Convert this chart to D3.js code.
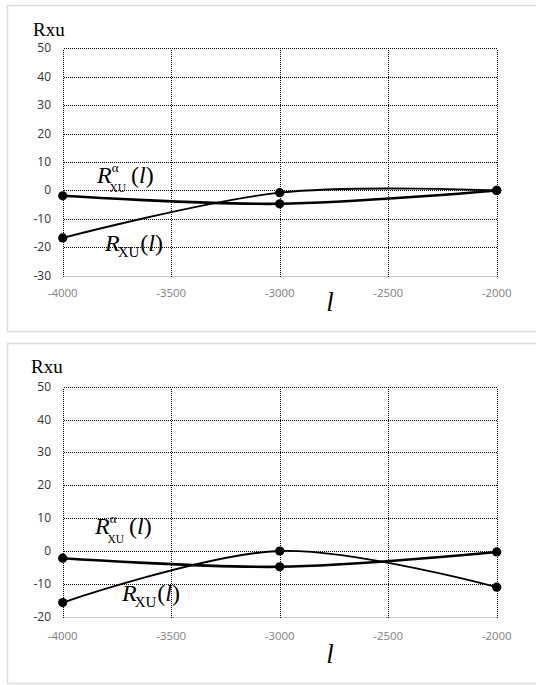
<!DOCTYPE html>
<html>
<head>
<meta charset="utf-8">
<script src="https://cdn.jsdelivr.net/npm/d3@7"></script>
<style>
  body { margin: 0; background: #fff; }
  .ytick { font-family: "Open Sans", sans-serif; font-size: 12px; fill: #333; }
  .xtick { font-family: "Open Sans", sans-serif; font-size: 11.5px; fill: #7f7f7f; }
  .serif { font-family: "Liberation Serif", "Times New Roman", serif; fill: #000; }
</style>
</head>
<body>
<svg id="fig" width="536" height="685"></svg>
<script>
// data
var xValues = [-4000, -3000, -2000];
var xTicks = [-4000, -3500, -3000, -2500, -2000];

var alphaTop = [-1.9, -4.7, 0];
var rxuTop = [-16.7, -0.8, 0];
var yTicksTop = [-30, -20, -10, 0, 10, 20, 30, 40, 50];

var alphaBottom = [-2.2, -4.8, -0.3];
var rxuBottom = [-15.7, 0, -11];
var yTicksBottom = [-20, -10, 0, 10, 20, 30, 40, 50];

var svg = d3.select("#fig");

// snap to pixel grid so the dotted lines stay crisp
function px(v) { return Math.round(v) + 0.5; }

function panel(opt) {
    var g = svg.append("g");

    // frame
    g.append("rect")
        .attr("x", 7.5).attr("y", opt.frameTop + 0.5)
        .attr("width", 540).attr("height", opt.frameH)
        .attr("fill", "none").attr("stroke", "#dcdcdc").attr("stroke-width", 1.5);

    var x = d3.scaleLinear().domain([-4000, -2000]).range([62.7, 496.7]);
    var y = d3.scaleLinear()
        .domain([opt.yTicks[0], opt.yTicks[opt.yTicks.length - 1]])
        .range([opt.plotBottom, opt.plotTop]);

    var y0 = px(y(opt.yTicks[0])), y1 = px(y(opt.yTicks[opt.yTicks.length - 1]));

    // x axis baseline (solid light gray)
    g.append("line")
        .attr("x1", px(x(-4000))).attr("x2", px(x(-2000)))
        .attr("y1", y0).attr("y2", y0)
        .attr("stroke", "#c8c8c8").attr("stroke-width", 1.2);

    // horizontal grid
    g.selectAll(".hg")
        .data(opt.yTicks.slice(1)).enter()
        .append("line")
        .attr("x1", px(x(-4000))).attr("x2", px(x(-2000)))
        .attr("y1", function(d){ return px(y(d)) }).attr("y2", function(d){ return px(y(d)) })
        .attr("stroke", "#000").attr("stroke-width", 1)
        .attr("stroke-dasharray", "1,1")
        .attr("shape-rendering", "crispEdges");

    // vertical grid
    g.selectAll(".vg")
        .data(xTicks).enter()
        .append("line")
        .attr("x1", function(d){ return px(x(d)) }).attr("x2", function(d){ return px(x(d)) })
        .attr("y1", y0).attr("y2", y1)
        .attr("stroke", "#000").attr("stroke-width", 1)
        .attr("stroke-dasharray", "1,1")
        .attr("shape-rendering", "crispEdges");

    // tick labels
    g.selectAll(".ytick")
        .data(opt.yTicks).enter()
        .append("text")
        .attr("class", "ytick")
        .attr("x", 51)
        .attr("y", function(d){ return y(d) + 4 })
        .attr("text-anchor", "end")
        .text(function(d){ return d });

    g.selectAll(".xtick")
        .data(xTicks).enter()
        .append("text")
        .attr("class", "xtick")
        .attr("x", function(d){ return x(d) })
        .attr("y", opt.xLabelY)
        .attr("text-anchor", "middle")
        .text(function(d){ return d });

    // smoothed series
    var line = d3.line()
        .x(function(d){ return x(d[0]) })
        .y(function(d){ return y(d[1]) })
        .curve(d3.curveCatmullRom.alpha(0.5));

    [[opt.rxu, 1.8], [opt.alpha, 2.6]].forEach(function(s) {
        var pts = xValues.map(function(v, i){ return [v, s[0][i]] });
        g.append("path")
            .attr("d", line(pts))
            .attr("fill", "none").attr("stroke", "#000")
            .attr("stroke-width", s[1]);
        g.selectAll(null)
            .data(pts).enter()
            .append("circle")
            .attr("cx", function(d){ return x(d[0]) })
            .attr("cy", function(d){ return y(d[1]) })
            .attr("r", 4.6)
            .attr("fill", "#000");
    });

    // titles
    g.append("text").attr("class", "serif")
        .attr("x", opt.titleX).attr("y", opt.titleY)
        .style("font-size", "19px")
        .text("Rxu");

    g.append("text").attr("class", "serif")
        .attr("x", 330).attr("y", opt.lY)
        .attr("text-anchor", "middle")
        .style("font-size", "27px").style("font-style", "italic")
        .text("l");

    // R^alpha_XU (l)
    var a = g.append("text").attr("class", "serif")
        .attr("x", opt.alphaLab[0]).attr("y", opt.alphaLab[1])
        .style("font-size", "24px");
    a.append("tspan").style("font-style", "italic").text("R");
    a.append("tspan").attr("dy", -11).style("font-size", "13px").text("\u03b1");
    a.append("tspan").attr("dx", -9).attr("dy", 20).style("font-size", "11.5px").text("XU");
    a.append("tspan").attr("dx", 5).attr("dy", -9).text("(");
    a.append("tspan").style("font-style", "italic").text("l");
    a.append("tspan").text(")");

    // R_XU (l)
    var b = g.append("text").attr("class", "serif")
        .attr("x", opt.rxuLab[0]).attr("y", opt.rxuLab[1])
        .style("font-size", "24px");
    b.append("tspan").style("font-style", "italic").text("R");
    b.append("tspan").attr("dx", -2).attr("dy", 6).style("font-size", "15px").text("XU");
    b.append("tspan").attr("dx", 1).attr("dy", -6).text("(");
    b.append("tspan").style("font-style", "italic").text("l");
    b.append("tspan").text(")");
}

panel({
    frameTop: 5, frameH: 326,
    plotTop: 48.3, plotBottom: 275.7,
    yTicks: yTicksTop,
    alpha: alphaTop, rxu: rxuTop,
    xLabelY: 297,
    titleX: 33, titleY: 36,
    lY: 311,
    alphaLab: [97, 183],
    rxuLab: [105, 251]
});

panel({
    frameTop: 343, frameH: 340,
    plotTop: 386.7, plotBottom: 616.7,
    yTicks: yTicksBottom,
    alpha: alphaBottom, rxu: rxuBottom,
    xLabelY: 640,
    titleX: 31, titleY: 373,
    lY: 663,
    alphaLab: [95, 534],
    rxuLab: [122, 601]
});
</script>
</body>
</html>
